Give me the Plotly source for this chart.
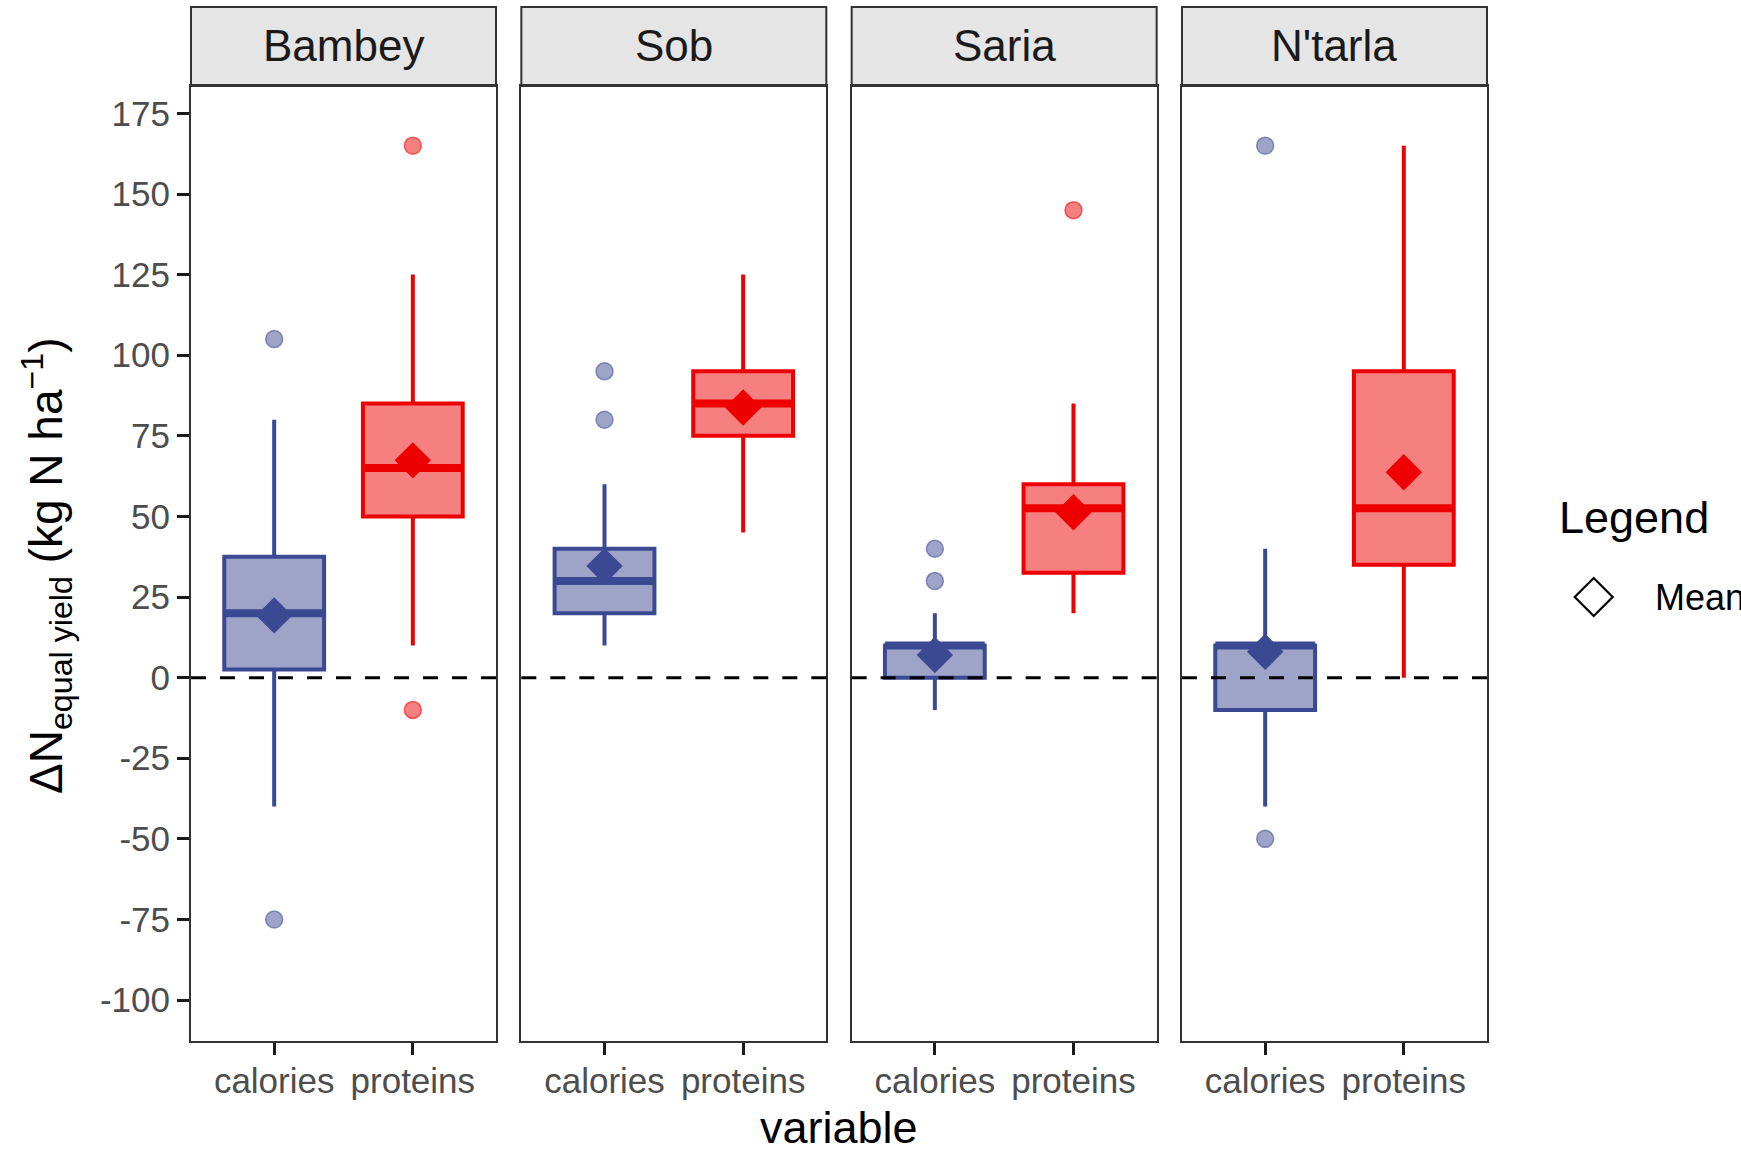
import plotly.graph_objects as go

# ---------------- data ----------------
sites = ["Bambey", "Sob", "Saria", "N'tarla"]
variables = ["calories", "proteins"]

cal_q1 = [2.5, 20, 0, -10]
cal_median = [20, 30, 10, 10]
cal_q3 = [37.5, 40, 10, 10]
cal_lower = [-40, 10, -10, -40]
cal_upper = [80, 60, 20, 40]
cal_mean = [19.3, 34.6, 7.0, 8.0]
cal_outliers = [[105, -75], [95, 80], [40, 30], [165, -50]]

pro_q1 = [50, 75, 32.5, 35]
pro_median = [65, 85, 52.5, 52.5]
pro_q3 = [85, 95, 60, 95]
pro_lower = [10, 45, 20, 0]
pro_upper = [125, 125, 85, 165]
pro_mean = [67.4, 83.8, 51.3, 63.7]
pro_outliers = [[165, -10], [], [145], []]

y_tick_vals = [-100, -75, -50, -25, 0, 25, 50, 75, 100, 125, 150, 175]
y_tick_labels = ["-100", "-75", "-50", "-25", "0", "25", "50", "75", "100", "125", "150", "175"]

# ---------------- style ----------------
FONT = "Liberation Sans"
W, H = 1741, 1152
L, R, T, B = 191, 254, 7, 111
PW = W - L - R
PH = H - T - B
panel_w = 305
panel_step = 330.33
strip_bottom_px = 86
strip_top_px = 7
box_w = 0.72

styles = [
    dict(line="#3B4992", fill="#9DA4C8", pt="rgba(59,73,146,0.5)", ptl="rgba(59,73,146,0.55)"),
    dict(line="#EE0000", fill="#F68080", pt="rgba(238,0,0,0.5)", ptl="rgba(238,0,0,0.55)"),
]
stats = [
    dict(q1=cal_q1, med=cal_median, q3=cal_q3, lo=cal_lower, hi=cal_upper, mean=cal_mean, out=cal_outliers),
    dict(q1=pro_q1, med=pro_median, q3=pro_q3, lo=pro_lower, hi=pro_upper, mean=pro_mean, out=pro_outliers),
]

def py(px):  # pixel (from top) -> paper y
    return (H - B - px) / PH

def pxx(px):  # pixel (from left) -> paper x
    return (px - L) / PW

fig = go.Figure()
y_dom_top = py(strip_bottom_px)

shapes = []
annotations = []
for i, site in enumerate(sites):
    sfx = "" if i == 0 else str(i + 1)
    xa, ya = "x" + sfx, "y" + sfx
    for j, var in enumerate(variables):
        st, s = stats[j], styles[j]
        xc = j + 1
        fig.add_trace(go.Box(
            x=[xc], q1=[st["q1"][i]], median=[st["med"][i]], q3=[st["q3"][i]],
            lowerfence=[st["lo"][i]], upperfence=[st["hi"][i]],
            width=box_w, whiskerwidth=0, boxpoints=False,
            fillcolor=s["fill"], line=dict(color=s["line"], width=4),
            xaxis=xa, yaxis=ya, showlegend=False, hoverinfo="skip"))
        # thick median
        fig.add_trace(go.Scatter(
            x=[xc - box_w / 2, xc + box_w / 2], y=[st["med"][i]] * 2, mode="lines",
            line=dict(color=s["line"], width=8), xaxis=xa, yaxis=ya,
            showlegend=False, hoverinfo="skip"))
        # outliers
        if st["out"][i]:
            fig.add_trace(go.Scatter(
                x=[xc] * len(st["out"][i]), y=st["out"][i], mode="markers",
                marker=dict(size=17, color=s["pt"], line=dict(color=s["ptl"], width=1.5)),
                xaxis=xa, yaxis=ya, showlegend=False, hoverinfo="skip"))
        # mean
        fig.add_trace(go.Scatter(
            x=[xc], y=[st["mean"][i]], mode="markers",
            marker=dict(symbol="diamond", size=28, color=s["line"], line=dict(width=0)),
            xaxis=xa, yaxis=ya, showlegend=False, hoverinfo="skip"))

    left = L + i * panel_step
    d0, d1 = pxx(left), pxx(left + panel_w)
    axis_common = dict(showline=True, mirror=True, linecolor="#333333", linewidth=2,
                       showgrid=False, zeroline=False)
    fig.update_layout(**{
        "xaxis" + sfx: dict(domain=[d0, d1], range=[0.4, 2.6], tickvals=[1, 2], ticktext=variables,
                            ticks="outside", ticklen=12, tickwidth=3, tickcolor="#1a1a1a",
                            ticklabelstandoff=-4,
                            tickfont=dict(family=FONT, size=35, color="#4D4D4D"),
                            anchor=ya, **axis_common),
        "yaxis" + sfx: dict(domain=[0, y_dom_top], range=[-112.7, 183.5], anchor=xa,
                            tickvals=y_tick_vals, ticktext=y_tick_labels,
                            ticks="outside" if i == 0 else "", ticklen=12, tickwidth=3, tickcolor="#1a1a1a",
                            showticklabels=(i == 0), ticklabelstandoff=0,
                            tickfont=dict(family=FONT, size=35, color="#4D4D4D"),
                            **axis_common),
    })
    # strip
    shapes.append(dict(type="rect", xref=xa + " domain", yref="paper", x0=0, x1=1,
                       y0=y_dom_top, y1=py(strip_top_px), fillcolor="#E5E5E5",
                       line=dict(color="#333333", width=2), layer="below"))
    annotations.append(dict(text=site, xref=xa + " domain", yref="paper", x=0.5, y=py(45.5),
                            xanchor="center", yanchor="middle", showarrow=False,
                            font=dict(family=FONT, size=44, color="#1A1A1A")))
    # zero reference line
    shapes.append(dict(type="line", xref=xa + " domain", yref=ya, x0=0, x1=1, y0=0, y1=0,
                       line=dict(color="black", width=3, dash="15px,14px"), layer="above"))

# titles
annotations.append(dict(text="variable", xref="paper", yref="paper", x=0.5, y=py(1127),
                        xanchor="center", yanchor="middle", showarrow=False,
                        font=dict(family=FONT, size=45, color="black")))
annotations.append(dict(text="ΔN<sub>equal yield</sub> (kg N ha<sup>−1</sup>)", textangle=-90,
                        xref="paper", yref="paper", x=pxx(46), y=py(566),
                        xanchor="center", yanchor="middle", showarrow=False,
                        font=dict(family=FONT, size=46, color="black")))
# legend
annotations.append(dict(text="Legend", xref="paper", yref="paper", x=pxx(1557), y=py(517),
                        xanchor="left", yanchor="middle", showarrow=False,
                        font=dict(family=FONT, size=45, color="black")))
annotations.append(dict(text="Mean", xref="paper", yref="paper", x=pxx(1653), y=py(598),
                        xanchor="left", yanchor="middle", showarrow=False,
                        font=dict(family=FONT, size=36, color="black")))
shapes.append(dict(type="path", xref="paper", yref="paper", xsizemode="pixel", ysizemode="pixel",
                   xanchor=pxx(1593.7), yanchor=py(597),
                   path="M -19 0 L 0 19 L 19 0 L 0 -19 Z",
                   line=dict(color="black", width=2.2), fillcolor="rgba(0,0,0,0)"))

fig.update_layout(width=W, height=H, margin=dict(l=L, r=R, t=T, b=B, autoexpand=False),
                  plot_bgcolor="white", paper_bgcolor="white", boxmode="overlay",
                  showlegend=False, shapes=shapes, annotations=annotations,
                  font=dict(family=FONT))

fig.write_html("out.html")
